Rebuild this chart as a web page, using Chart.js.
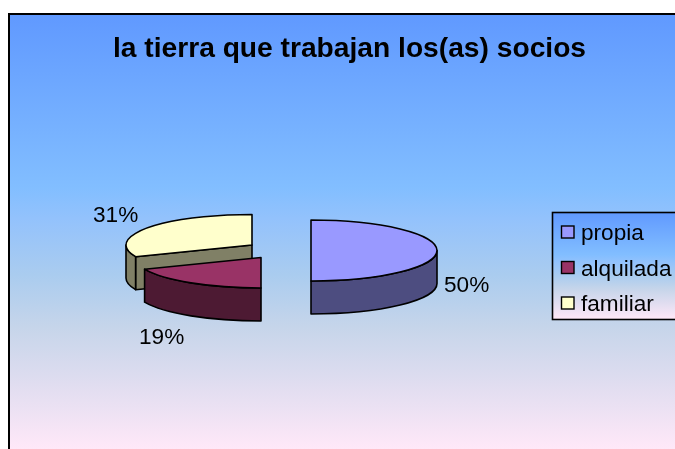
<!DOCTYPE html>
<html><head><meta charset="utf-8">
<style>html,body{margin:0;padding:0;background:#fff;overflow:hidden}canvas{display:block}</style>
<script src="https://cdn.jsdelivr.net/npm/chart.js@4"></script>
</head><body>
<canvas id="c" width="675" height="449"></canvas>
<script>
const titleText = 'la tierra que trabajan los(as) socios';
const categories = ['propia', 'alquilada', 'familiar'];
const values = [8, 3, 5];
const topColors = ['#9999FF', '#993366', '#FFFFCC'];
const wallColors = ['#4D4D80', '#4D1A33', '#808066'];
const sliceCentreX = [311, 261, 252];
const sliceCentreY = [250.5, 257.5, 245];
const labelX = [444, 139, 93];
const labelY = [292, 344, 222];
const FONT = '"Liberation Sans", Arial, sans-serif';
const RX = 126, RY = 30.5, DEPTH = 33;

function gradient(ctx, y0, y1) {
  const g = ctx.createLinearGradient(0, y0, 0, y1);
  g.addColorStop(0, '#6099FF');
  g.addColorStop(0.40, '#82BEFF');
  g.addColorStop(0.47, '#93C2FC');
  g.addColorStop(0.60, '#AACCEF');
  g.addColorStop(0.72, '#C6D5EA');
  g.addColorStop(0.85, '#E0DDF0');
  g.addColorStop(1, '#FFE8F8');
  return g;
}
function panel(ctx, x, y, w, h, lw, y1, y2) {
  ctx.fillStyle = gradient(ctx, y1, y2);
  ctx.fillRect(x, y, w, h);
  ctx.lineWidth = lw;
  ctx.strokeStyle = '#000';
  ctx.strokeRect(x, y, w, h);
}
const backdrop = {
  id: 'backdrop',
  beforeDraw(chart) {
    const ctx = chart.ctx;
    ctx.save();
    ctx.fillStyle = '#fff';
    ctx.fillRect(0, 0, chart.width, chart.height);
    panel(ctx, 9, 14, 700, 500, 2, 14, 449);
    ctx.restore();
  }
};
const pie3d = {
  id: 'pie3d',
  beforeDatasetsDraw(chart) {
    const ctx = chart.ctx;
    const arcs = chart.getDatasetMeta(0).data;
    ctx.save();
    ctx.lineWidth = 1.6;
    ctx.lineJoin = 'round';
    ctx.strokeStyle = '#000';
    [2, 1, 0].forEach(i => {
      const a = arcs[i];
      const cx = sliceCentreX[i], cy = sliceCentreY[i];
      const s = a.startAngle, e = a.endAngle;
      const px = t => cx + Math.cos(t) * RX;
      const py = t => cy + Math.sin(t) * RY;
      ctx.fillStyle = wallColors[i];
      // radial faces turned to the viewer
      const face = t => {
        ctx.beginPath();
        ctx.moveTo(cx, cy);
        ctx.lineTo(px(t), py(t));
        ctx.lineTo(px(t), py(t) + DEPTH);
        ctx.lineTo(cx, cy + DEPTH);
        ctx.closePath();
        ctx.fill();
        ctx.stroke();
      };
      if (Math.cos(s) < -1e-6) face(s);
      if (Math.cos(e) > 1e-6) face(e);
      // outer wall: the part of the rim on the front half of the ellipse
      const from = Math.max(s, 0), to = Math.min(e, Math.PI);
      if (to > from) {
        ctx.beginPath();
        ctx.ellipse(cx, cy, RX, RY, 0, from, to);
        ctx.lineTo(px(to), py(to) + DEPTH);
        ctx.ellipse(cx, cy + DEPTH, RX, RY, 0, to, from, true);
        ctx.closePath();
        ctx.fill();
        ctx.stroke();
      }
      // top face
      ctx.beginPath();
      ctx.moveTo(cx, cy);
      ctx.ellipse(cx, cy, RX, RY, 0, s, e);
      ctx.closePath();
      ctx.fillStyle = topColors[i];
      ctx.fill();
      ctx.stroke();
    });
    ctx.restore();
    return false;
  },
  afterDraw(chart) {
    const ctx = chart.ctx;
    const total = values.reduce((p, v) => p + v, 0);
    ctx.save();
    ctx.font = '22.6px ' + FONT;
    ctx.textBaseline = 'alphabetic';
    ctx.textAlign = 'left';
    ctx.fillStyle = '#000';
    values.forEach((v, i) => ctx.fillText(Math.round(v / total * 100) + '%', labelX[i], labelY[i]));
    // legend
    panel(ctx, 552.5, 212.5, 130, 107, 1.6, 212, 319);
    categories.forEach((name, i) => {
      const y = 226 + i * 35.5;
      ctx.fillStyle = topColors[i];
      ctx.fillRect(561.5, y, 12.5, 12);
      ctx.lineWidth = 1.4;
      ctx.strokeStyle = '#000';
      ctx.strokeRect(561.5, y, 12.5, 12);
      ctx.fillStyle = '#000';
      ctx.fillText(name, 581, y + 14);
    });
    ctx.restore();
  }
};
new Chart(document.getElementById('c'), {
  type: 'pie',
  data: {
    labels: categories,
    datasets: [{ data: values, backgroundColor: topColors, borderColor: '#000', radius: RX }]
  },
  plugins: [backdrop, pie3d],
  options: {
    responsive: false,
    animation: false,
    layout: { padding: { left: 24, top: 0, right: 0, bottom: 0 } },
    plugins: {
      legend: { display: false },
      tooltip: { enabled: false },
      title: {
        display: true,
        text: titleText,
        color: '#000',
        align: 'center',
        font: { family: FONT, size: 28.2, weight: 'bold' },
        padding: { top: 32, bottom: 10 }
      }
    }
  }
});
</script>
</body></html>
